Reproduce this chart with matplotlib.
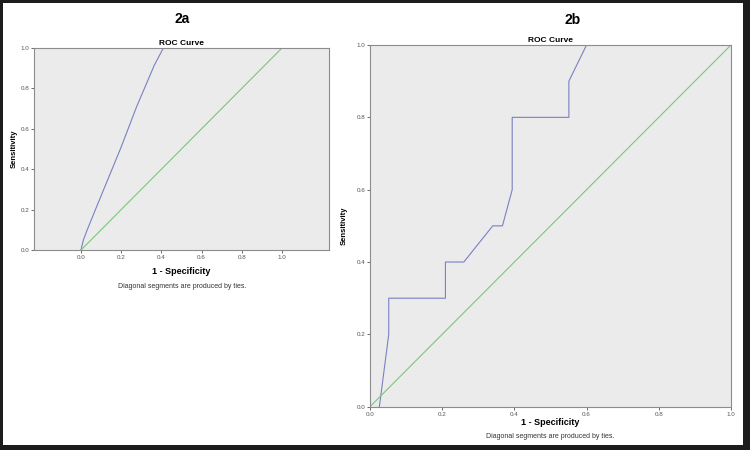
import matplotlib.pyplot as plt
from matplotlib.patches import Rectangle

plt.rcParams['font.family'] = ['Liberation Sans', 'DejaVu Sans']

# 2a ROC curve (1 - specificity, sensitivity)
fpr_a = [0.0, 0.012, 0.031, 0.078, 0.2, 0.277, 0.365, 0.41, 1.0]
tpr_a = [0.0, 0.05, 0.1, 0.215, 0.51, 0.71, 0.915, 1.0, 1.0]

# 2b ROC curve
fpr_b = [0.026, 0.052, 0.052, 0.209, 0.209, 0.26, 0.34, 0.367, 0.394, 0.394,
         0.551, 0.551, 0.60, 1.0]
tpr_b = [0.0, 0.2, 0.3, 0.3, 0.4, 0.4, 0.5, 0.5, 0.6, 0.8,
         0.8, 0.9, 1.0, 1.0]

ref = [0.0, 1.0]
ticks = [0.0, 0.2, 0.4, 0.6, 0.8, 1.0]
tick_labels = ['0.0', '0.2', '0.4', '0.6', '0.8', '1.0']

blue = '#7a80c2'
green = '#7cc67c'
face = '#ebebeb'


def style_axes(ax):
    ax.set_facecolor(face)
    for s in ax.spines.values():
        s.set_color('#8c8c8c')
        s.set_linewidth(0.8)
    ax.set_xticks(ticks)
    ax.set_xticklabels(tick_labels)
    ax.set_yticks(ticks)
    ax.set_yticklabels(tick_labels)
    ax.tick_params(labelsize=4.5, length=2, width=0.6, pad=1.5,
                   colors='#555555')
    ax.set_ylim(0, 1)


fig = plt.figure(figsize=(7.5, 4.5), dpi=100)
fig.patch.set_facecolor('#1c1c1c')
fig.add_artist(Rectangle((3 / 750, 5 / 450), 740 / 750, 442 / 450,
                         transform=fig.transFigure, facecolor='white',
                         edgecolor='none', zorder=0))

# panel 2a
ax1 = fig.add_axes([0.0453, 0.4444, 0.3933, 0.4489])
style_axes(ax1)
ax1.set_xlim(-0.234, 1.234)
ax1.plot(fpr_a, tpr_a, color=blue, lw=0.8)
ax1.plot(ref, ref, color=green, lw=0.8)
ax1.set_title('ROC Curve', fontsize=6, fontweight='bold', pad=2)
ax1.set_xlabel('1 - Specificity', fontsize=6.5, fontweight='bold', labelpad=5)
ax1.set_ylabel('Sensitivity', fontsize=5.5, fontweight='bold', labelpad=2)
fig.text(182 / 750, 1 - 19 / 450, '2a', fontsize=10, fontweight='bold',
         ha='center', va='center')
fig.text(182 / 750, 1 - 287 / 450, 'Diagonal segments are produced by ties.',
         fontsize=5, ha='center', va='center', color='#333333')

# panel 2b
ax2 = fig.add_axes([0.4933, 0.0962, 0.4813, 0.8038])
style_axes(ax2)
ax2.set_xlim(0, 1)
ax2.plot(fpr_b, tpr_b, color=blue, lw=0.8)
ax2.plot(ref, ref, color=green, lw=0.8)
ax2.set_title('ROC Curve', fontsize=6, fontweight='bold', pad=2)
ax2.set_xlabel('1 - Specificity', fontsize=6.5, fontweight='bold', labelpad=1)
ax2.set_ylabel('Sensitivity', fontsize=5.5, fontweight='bold', labelpad=6)
fig.text(573 / 750, 1 - 20 / 450, '2b', fontsize=10, fontweight='bold',
         ha='center', va='center')
fig.text(550 / 750, 1 - 437 / 450, 'Diagonal segments are produced by ties.',
         fontsize=5, ha='center', va='center', color='#333333')

fig.savefig('out.png', dpi=100, facecolor=fig.get_facecolor())
